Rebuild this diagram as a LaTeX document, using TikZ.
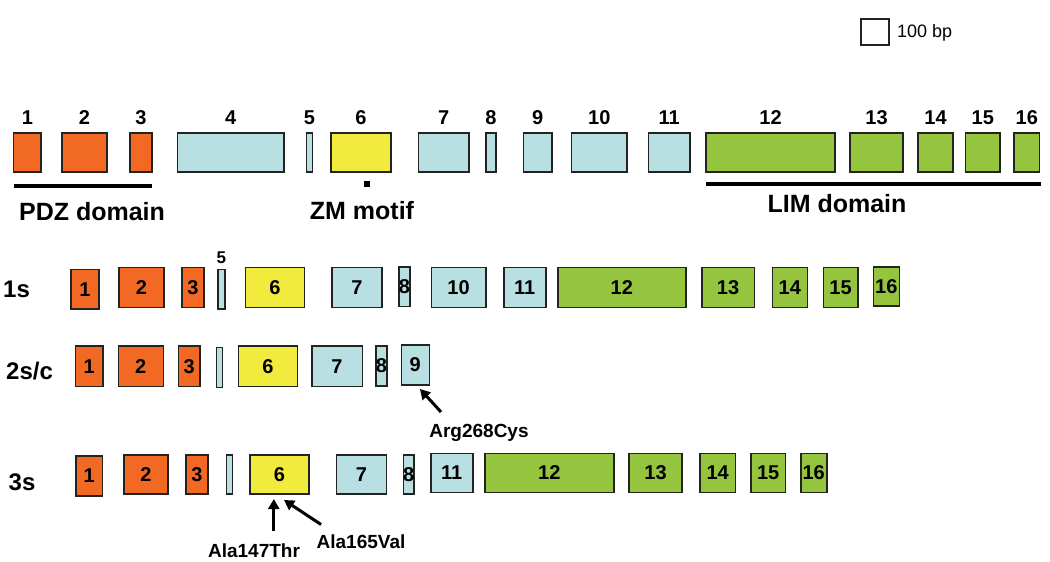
\documentclass[tikz,border=0pt]{standalone}
\usepackage{fontspec}
\setmainfont{Liberation Sans}
\usetikzlibrary{arrows.meta}
\definecolor{exorange}{RGB}{241,105,35}
\definecolor{exblue}{RGB}{184,224,226}
\definecolor{exyellow}{RGB}{240,235,60}
\definecolor{exgreen}{RGB}{149,196,62}
\definecolor{exborder}{RGB}{35,35,35}
\newcommand\ExonBox[7]{\node[exon, fill=#6, minimum width={(#3)-(#2)}, minimum height={(#5)-(#4)}] (#1) at ({((#2)+(#3))/2},{((#4)+(#5))/2}) {\makebox[0pt]{#7}};}
\tikzset{
  exon/.style={draw=exborder, line width=1.6pt, inner sep=0pt, outer sep=0pt, font=\bfseries\fontsize{20}{24}\selectfont},
  toplabel/.style={anchor=base, inner sep=0pt, font=\bfseries\fontsize{20}{24}\selectfont},
  domainlabel/.style={anchor=base, inner sep=0pt, font=\bfseries\fontsize{25}{30}\selectfont},
  rowlabel/.style={anchor=base west, inner sep=0pt, font=\bfseries\fontsize{24}{28}\selectfont},
  mutlabel/.style={anchor=base, inner sep=0pt, font=\bfseries\fontsize{19}{22}\selectfont},
  domainbar/.style={line width=4pt, black},
  mutarrow/.style={line width=3pt, -{Triangle[width=11pt,length=10pt]}},
}
\begin{document}
\begin{tikzpicture}[x=1pt,y=-1pt]
\useasboundingbox (0,0) rectangle (1050,562);
% scale bar
\node[draw=exborder, line width=1.2pt, minimum width=28pt, minimum height=26pt, inner sep=0pt] (scalebox) at (875,32) {};
\node[anchor=base west, inner sep=0pt, font=\fontsize{18}{22}\selectfont] (scaletext) at (897,37) {100 bp};
% top row
\ExonBox{t1}{13.5}{41.2}{133}{172}{exorange}{}
\ExonBox{t2}{62}{107}{133}{172}{exorange}{}
\ExonBox{t3}{130}{152}{133}{172}{exorange}{}
\ExonBox{t4}{177.5}{284}{133}{172}{exblue}{}
\ExonBox{t5}{306.5}{312.5}{133}{172}{exblue}{}
\ExonBox{t6}{331}{391}{133}{172}{exyellow}{}
\ExonBox{t7}{418.5}{469}{133}{172}{exblue}{}
\ExonBox{t8}{486}{496}{133}{172}{exblue}{}
\ExonBox{t9}{523.5}{552}{133}{172}{exblue}{}
\ExonBox{t10}{571.5}{627}{133}{172}{exblue}{}
\ExonBox{t11}{648.5}{690}{133}{172}{exblue}{}
\ExonBox{t12}{706}{835}{133}{172}{exgreen}{}
\ExonBox{t13}{850}{903}{133}{172}{exgreen}{}
\ExonBox{t14}{918}{953}{133}{172}{exgreen}{}
\ExonBox{t15}{965.5}{1000}{133}{172}{exgreen}{}
\ExonBox{t16}{1014}{1039.5}{133}{172}{exgreen}{}
\foreach \n in {1,...,16} \node[toplabel] (l\n) at (t\n |- 0,124) {\n};
% domains
\draw[domainbar] ([yshift=-13.5pt]t1.south west) -- ([yshift=-13.5pt]t3.south east);
\draw[domainbar] ([yshift=-11.6pt]t12.south west) -- ([yshift=-11.6pt,xshift=1.5pt]t16.south east);
\node[fill=black, minimum size=6pt, inner sep=0pt] (zm) at (367,183.6) {};
\node[domainlabel] (pdz) at (92,220) {PDZ domain};
\node[domainlabel] (zmt) at (362,219.5) {ZM motif};
\node[domainlabel] (lim) at (837,212) {LIM domain};
% row 1s
\node[rowlabel] (r1) at (3,297.5) {1s};
\ExonBox{a1}{71}{98.7}{269.3}{309.2}{exorange}{1}
\ExonBox{a2}{119}{164}{267.6}{307.5}{exorange}{2}
\ExonBox{a3}{182}{204}{267.6}{307.5}{exorange}{3}
\ExonBox{a5}{218}{224.8}{269.3}{309.2}{exblue}{}
\node[anchor=base, inner sep=0pt, font=\bfseries\fontsize{17}{20}\selectfont] (a5l) at (221.4,263.5) {5};
\ExonBox{a6}{245.4}{304.3}{267.6}{307.5}{exyellow}{6}
\ExonBox{a7}{332}{382}{267.6}{307.5}{exblue}{7}
\ExonBox{a8}{399}{409.7}{267}{306.5}{exblue}{8}
\ExonBox{a10}{431.4}{485.8}{267.6}{307.5}{exblue}{10}
\ExonBox{a11}{503.7}{545.7}{267.6}{307.5}{exblue}{11}
\ExonBox{a12}{557.7}{686}{267.6}{307.5}{exgreen}{12}
\ExonBox{a13}{701.7}{754.3}{267.6}{307.5}{exgreen}{13}
\ExonBox{a14}{772.3}{807.3}{267.6}{307.5}{exgreen}{14}
\ExonBox{a15}{823.3}{857.7}{267.6}{307.5}{exgreen}{15}
\ExonBox{a16}{873.3}{899.3}{266.7}{305.7}{exgreen}{16}
% row 2s/c
\node[rowlabel] (r2) at (6,379) {2s/c};
\ExonBox{b1}{75.4}{103.1}{346.2}{386.5}{exorange}{1}
\ExonBox{b2}{118.3}{163.3}{346.2}{386.5}{exorange}{2}
\ExonBox{b3}{178.5}{200.1}{346.2}{386.5}{exorange}{3}
\ExonBox{b5}{216.4}{222.4}{347.6}{387.5}{exblue}{}
\ExonBox{b6}{238.3}{297.5}{346.2}{386.5}{exyellow}{6}
\ExonBox{b7}{311.7}{362.4}{346.2}{386.5}{exblue}{7}
\ExonBox{b8}{376}{387.1}{345.9}{385.8}{exblue}{8}
\ExonBox{b9}{401.3}{429.3}{345.2}{384.8}{exblue}{9}
\coordinate (argtail) at (441,412);
\coordinate (argtip) at (420,389);
\draw[mutarrow] (argtail) -- (argtip);
\node[mutlabel] (arg) at (479,437.5) {Arg268Cys};
% row 3s
\node[rowlabel] (r3) at (8.5,490) {3s};
\ExonBox{c1}{76}{102.4}{455.9}{495.8}{exorange}{1}
\ExonBox{c2}{124}{168}{454.9}{494.1}{exorange}{2}
\ExonBox{c3}{186}{208}{454.9}{494.1}{exorange}{3}
\ExonBox{c5}{226.5}{232.6}{454.9}{494.1}{exblue}{}
\ExonBox{c6}{250.2}{308.7}{454.9}{494.1}{exyellow}{6}
\ExonBox{c7}{336.4}{386.4}{454.9}{494.1}{exblue}{7}
\ExonBox{c8}{403.3}{414.1}{454.9}{494.1}{exblue}{8}
\ExonBox{c11}{430.7}{472.7}{453.3}{492.3}{exblue}{11}
\ExonBox{c12}{485}{613.7}{453.3}{492.3}{exgreen}{12}
\ExonBox{c13}{629}{682}{453.3}{492.3}{exgreen}{13}
\ExonBox{c14}{700}{735.3}{453.3}{492.3}{exgreen}{14}
\ExonBox{c15}{751}{785.3}{453.3}{492.3}{exgreen}{15}
\ExonBox{c16}{800.7}{826.7}{453.3}{492.3}{exgreen}{16}
\coordinate (m1tail) at (273.8,531);
\coordinate (m1tip) at (273.8,499);
\coordinate (m2tail) at (321,524.5);
\coordinate (m2tip) at (284,500);
\draw[mutarrow] (m1tail) -- (m1tip);
\draw[mutarrow] (m2tail) -- (m2tip);
\node[mutlabel] (ala147) at (254,557) {Ala147Thr};
\node[mutlabel] (ala165) at (361,548) {Ala165Val};
\end{tikzpicture}
\end{document}
